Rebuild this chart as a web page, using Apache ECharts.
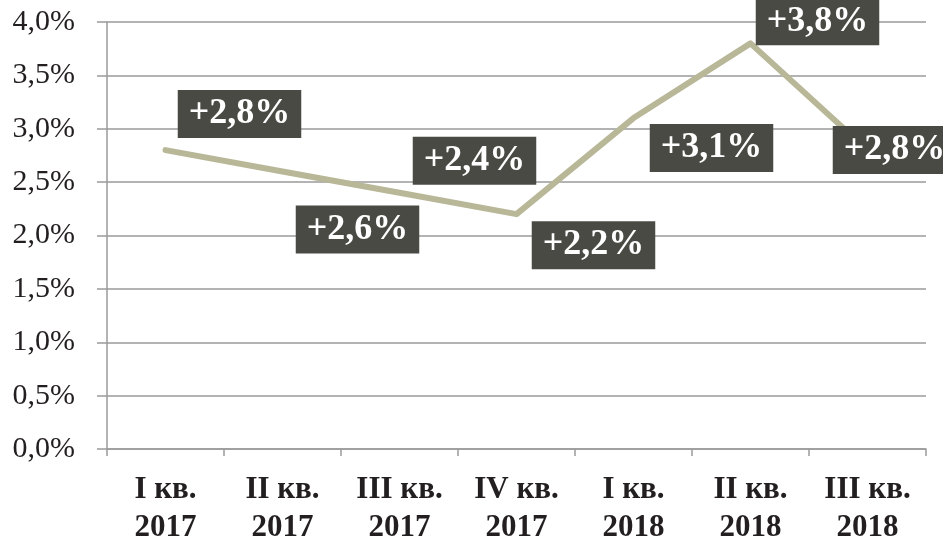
<!DOCTYPE html>
<html>
<head>
<meta charset="utf-8">
<script src="https://cdn.jsdelivr.net/npm/echarts@6/dist/echarts.min.js"></script>
<style>
  html, body { margin: 0; padding: 0; background: #fff; }
  #chart { width: 943px; height: 547px; }
</style>
</head>
<body>
<div id="chart"></div>
<script>
// квартальные данные
const quarters = ['I кв.\n2017', 'II кв.\n2017', 'III кв.\n2017', 'IV кв.\n2017', 'I кв.\n2018', 'II кв.\n2018', 'III кв.\n2018'];
const growth = [2.8, 2.6, 2.4, 2.2, 3.1, 3.8, 2.8];
const yTicks = [0, 0.5, 1, 1.5, 2, 2.5, 3, 3.5, 4];

// сдвиг подписей относительно точек
const labelShift = [[74, -36], [75, 58], [75, -32], [77, 31], [78, 30], [67, -22], [27, 0]];

const fmt = v => v.toFixed(1).replace('.', ',') + '%';

const chart = echarts.init(document.getElementById('chart'));
chart.setOption({
    animation: false,
    grid: { left: 107, right: 17, top: 22, bottom: 89 },
    xAxis: {
        type: 'category',
        data: quarters,
        boundaryGap: true,
        axisLine: { lineStyle: { color: '#9a9a9a', width: 1.5 } },
        axisTick: { show: true, length: 7, lineStyle: { color: '#9a9a9a', width: 1.5 } },
        axisLabel: {
            margin: 22,
            color: '#231f20',
            fontFamily: 'Liberation Serif',
            fontWeight: 'bold',
            fontSize: 31,
            lineHeight: 38
        }
    },
    yAxis: {
        type: 'value',
        min: yTicks[0],
        max: yTicks[yTicks.length - 1],
        interval: 0.5,
        axisLine: { show: true, lineStyle: { color: '#9a9a9a', width: 1.5 } },
        axisTick: { show: true, length: 10, lineStyle: { color: '#9a9a9a', width: 1.5 } },
        splitLine: { lineStyle: { color: '#9a9a9a', width: 1.5 } },
        axisLabel: {
            margin: 32,
            color: '#231f20',
            fontFamily: 'Liberation Serif',
            fontSize: 30,
            formatter: fmt
        }
    },
    series: [{
        type: 'line',
        data: growth.map((v, i) => ({
            value: v,
            label: { offset: labelShift[i] }
        })),
        symbol: 'circle',
        symbolSize: 1,
        itemStyle: { color: 'rgba(0,0,0,0)' },
        lineStyle: { color: '#b8b798', width: 6, cap: 'round', join: 'round' },
        label: {
            show: true,
            position: 'inside',
            formatter: p => '+' + fmt(p.value),
            color: '#fff',
            backgroundColor: '#4a4a44',
            fontFamily: 'Liberation Serif',
            fontWeight: 'bold',
            fontSize: 36,
            padding: [7, 11, 5, 11]
        }
    }]
});
</script>
</body>
</html>
